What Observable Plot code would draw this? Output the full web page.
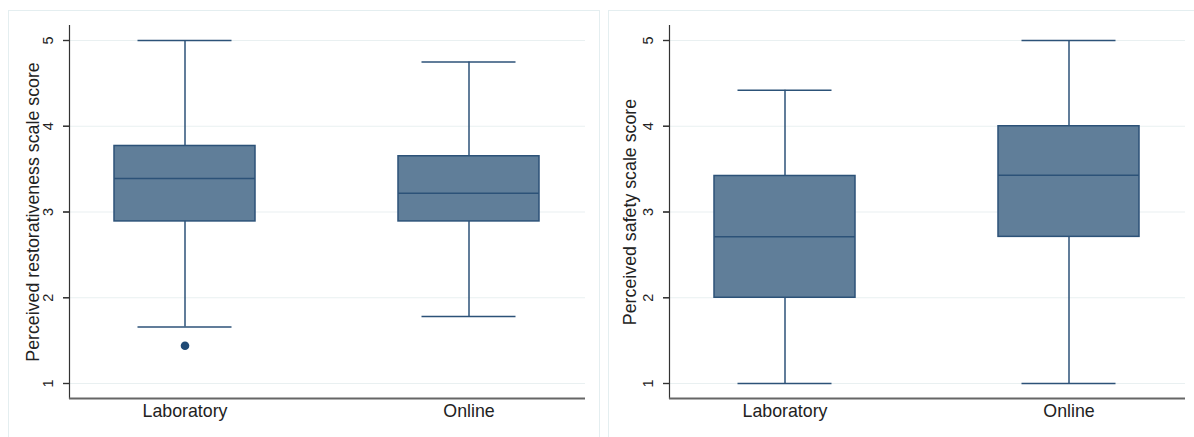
<!DOCTYPE html>
<html>
<head>
<meta charset="utf-8">
<script src="https://cdn.jsdelivr.net/npm/d3@7"></script>
<script src="https://cdn.jsdelivr.net/npm/@observablehq/plot@0.6"></script>
<style>
  html, body { margin: 0; padding: 0; background: #fff; }
  body { width: 1194px; height: 437px; position: relative; overflow: hidden; font-family: "Liberation Sans", Arial, sans-serif; }
  .frame { position: absolute; border: 1px solid #e4eef0; box-sizing: border-box; }
  .panel { position: absolute; }
</style>
</head>
<body>
<div class="frame" style="left:8px; top:10px; width:592px; height:460px;"></div>
<div class="frame" style="left:608px; top:10px; width:600px; height:460px;"></div>
<div class="panel" id="p1" style="left:8px; top:10px;"></div>
<div class="panel" id="p2" style="left:608px; top:10px;"></div>
<script>
// Categories
const groups = ["Laboratory", "Online"];
// Perceived restorativeness scale score
const restMin = [1.66, 1.78];
const restQ1  = [2.89, 2.89];
const restMed = [3.39, 3.22];
const restQ3  = [3.77, 3.65];
const restMax = [5.00, 4.75];
const restOutGroup = ["Laboratory"];
const restOutValue = [1.44];
// Perceived safety scale score
const safeMin = [1.00, 1.00];
const safeQ1  = [2.00, 2.71];
const safeMed = [2.71, 3.43];
const safeQ3  = [3.42, 4.00];
const safeMax = [4.42, 5.00];
const yTicks = [1, 2, 3, 4, 5];

const FILL = "#607e99";
const STROKE = "#2c5278";

function table(mins, q1s, meds, q3s, maxs) {
  return groups.map((g, i) => ({g, min: mins[i], q1: q1s[i], med: meds[i], q3: q3s[i], max: maxs[i]}));
}

function boxChart(data, outliers, label, width, marginRight, labelOffset) {
  const marginLeft = 61;
  const plotW = width - marginLeft - marginRight;
  return Plot.plot({
    width, height: 427,
    marginLeft, marginRight, marginTop: 15, marginBottom: 39,
    style: {fontFamily: "'Liberation Sans', Arial, sans-serif", fontSize: "14.5px", color: "#222", background: "transparent", overflow: "visible"},
    x: {domain: groups, paddingInner: 0.5035, paddingOuter: 0.159, label: null, axis: null},
    y: {
      domain: [0.825, 5.175], ticks: yTicks, tickFormat: d3.format("d"),
      tickSize: 6, tickRotate: -90, tickPadding: 11,
      label, labelAnchor: "center", labelArrow: "none", labelOffset
    },
    marks: [
      Plot.gridY(yTicks, {stroke: "#e9f0f1", strokeOpacity: 1, strokeWidth: 1.2}),
      Plot.ruleX(data, {x: "g", y1: "q3", y2: "max", stroke: STROKE, strokeWidth: 1.5}),
      Plot.ruleX(data, {x: "g", y1: "min", y2: "q1", stroke: STROKE, strokeWidth: 1.5}),
      Plot.tickY(data, {x: "g", y: "max", stroke: STROKE, strokeWidth: 1.5, inset: 23.5}),
      Plot.tickY(data, {x: "g", y: "min", stroke: STROKE, strokeWidth: 1.5, inset: 23.5}),
      Plot.barY(data, {x: "g", y1: "q1", y2: "q3", fill: FILL, stroke: STROKE, strokeWidth: 1.5}),
      Plot.tickY(data, {x: "g", y: "med", stroke: STROKE, strokeWidth: 1.5}),
      Plot.dot(outliers, {x: "g", y: "v", r: 4.3, fill: "#1f4a75", stroke: "none"}),
      // y-axis tick marks (outward, 6px)
      Plot.tickY(yTicks, {y: d => d, insetRight: plotW - 6, dx: -6, stroke: "#333", strokeWidth: 1.2}),
      Plot.frame({anchor: "left", stroke: "#333", strokeWidth: 1.2}),
      Plot.axisX({tickSize: 0, tickPadding: 6, fontSize: 17.8, color: "#222", label: null}),
      Plot.ruleY([0.825], {stroke: "#666", strokeWidth: 2})
    ]
  });
}

const restData = table(restMin, restQ1, restMed, restQ3, restMax);
const safeData = table(safeMin, safeQ1, safeMed, safeQ3, safeMax);
const restOut = restOutGroup.map((g, i) => ({g, v: restOutValue[i]}));

const c1 = boxChart(restData, restOut, "Perceived restorativeness scale score", 592, 15, 43);
const c2 = boxChart(safeData, [], "Perceived safety scale score", 586, 9, 46);
document.getElementById("p1").appendChild(c1);
document.getElementById("p2").appendChild(c2);
for (const svg of [c1, c2]) {
  svg.querySelectorAll("g[aria-label='y-axis label']").forEach(g => g.setAttribute("font-size", "17.8"));
  svg.querySelectorAll("g[aria-label='y-axis tick']").forEach(g => { g.setAttribute("stroke", "#333"); g.setAttribute("stroke-width", "1.2"); });
}
</script>
</body>
</html>
